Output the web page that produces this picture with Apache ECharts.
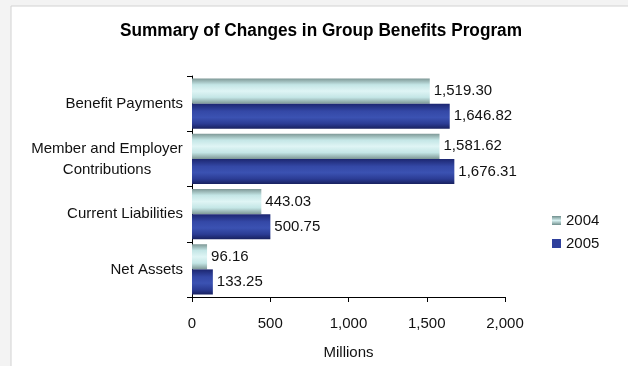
<!DOCTYPE html>
<html>
<head>
<meta charset="utf-8">
<script src="https://cdn.jsdelivr.net/npm/echarts@6/dist/echarts.min.js"></script>
<style>
  html, body { margin: 0; padding: 0; background: #f3f3f3; }
  #chart { width: 628px; height: 366px; }
</style>
</head>
<body>
<div id="chart"></div>
<script>
// Group benefits program summary, in millions
const categories = ['Benefit Payments', 'Member and Employer Contributions', 'Current Liabilities', 'Net Assets'];
const values2004 = [1519.30, 1581.62, 443.03, 96.16];
const values2005 = [1646.82, 1676.31, 500.75, 133.25];
const seriesNames = ['2004', '2005'];
const xTicks = [0, 500, 1000, 1500, 2000];
const titleText = 'Summary of Changes in Group Benefits Program';

const fmt = v => v.toLocaleString('en-US', { minimumFractionDigits: 2, maximumFractionDigits: 2 });
const fmtTick = v => v.toLocaleString('en-US');

const font = '"Liberation Sans", Arial, sans-serif';
const fs = 15;

// Condensed bold heading: measure the bold face and squeeze it horizontally
const titleFont = 'bold 18px "Liberation Sans", Arial, sans-serif';
const ctx = document.createElement('canvas').getContext('2d');
ctx.font = titleFont;
const titleScale = 402 / ctx.measureText(titleText).width;

// Cylinder-style shading across the bar thickness
const grad2004 = new echarts.graphic.LinearGradient(0, 0, 0, 1, [
  { offset: 0, color: '#7e9896' },
  { offset: 0.25, color: '#c4e6e6' },
  { offset: 0.5, color: '#dff5f5' },
  { offset: 0.75, color: '#c4e6e6' },
  { offset: 1, color: '#7e9896' }
]);
const grad2005 = new echarts.graphic.LinearGradient(0, 0, 0, 1, [
  { offset: 0, color: '#1c2670' },
  { offset: 0.3, color: '#3448a6' },
  { offset: 0.55, color: '#3b52b2' },
  { offset: 0.8, color: '#2b3c94' },
  { offset: 1, color: '#18215f' }
]);
const legend2004 = new echarts.graphic.LinearGradient(0, 0, 0, 1, [
  { offset: 0, color: '#6f8e8c' },
  { offset: 0.5, color: '#d6f0f0' },
  { offset: 1, color: '#6f8e8c' }
]);

const chart = echarts.init(document.getElementById('chart'), null, { renderer: 'canvas' });

chart.setOption({
  backgroundColor: 'transparent',
  animation: false,
  graphic: [
    {
      type: 'rect',
      left: 10.5, top: 5.5,
      shape: { x: 0, y: 0, width: 640, height: 380 },
      style: { fill: '#ffffff', stroke: '#d2d2d2', lineWidth: 1 },
      z: -10
    },
    {
      type: 'text',
      x: 321, y: 31,
      scaleX: titleScale,
      style: {
        text: titleText,
        font: titleFont,
        fill: '#000',
        textAlign: 'center',
        textVerticalAlign: 'middle'
      }
    }
  ],
  legend: {
    orient: 'vertical',
    left: 547,
    top: 208,
    itemWidth: 9,
    itemHeight: 9,
    itemGap: 8,
    icon: 'rect',
    data: [
      { name: '2004', itemStyle: { color: legend2004 } },
      { name: '2005', itemStyle: { color: '#2e3f9c' } }
    ],
    textStyle: { fontFamily: font, fontSize: fs, color: '#111' }
  },
  grid: { left: 192, right: 123, top: 76, bottom: 69, containLabel: false },
  xAxis: {
    type: 'value',
    min: xTicks[0],
    max: xTicks[xTicks.length - 1],
    interval: xTicks[1] - xTicks[0],
    name: 'Millions',
    nameLocation: 'middle',
    nameGap: 48,
    nameTextStyle: { fontFamily: font, fontSize: fs, color: '#111' },
    axisLine: { show: true, lineStyle: { color: '#000', width: 1 } },
    axisTick: { show: true, length: 5, lineStyle: { color: '#000' } },
    axisLabel: { formatter: fmtTick, fontFamily: font, fontSize: fs, color: '#111', margin: 19 },
    splitLine: { show: false }
  },
  yAxis: {
    type: 'category',
    inverse: true,
    data: categories,
    axisLine: { show: true, lineStyle: { color: '#000', width: 1 } },
    axisTick: { show: true, length: 5, lineStyle: { color: '#000' } },
    axisLabel: {
      fontFamily: font, fontSize: fs, color: '#111', margin: 9, lineHeight: 21,
      formatter: v => v === 'Member and Employer Contributions'
        ? '{c|Member and Employer}\n{c|Contributions}'
        : v,
      rich: { c: { width: 152, align: 'center', fontFamily: font, fontSize: fs, color: '#111', lineHeight: 21 } }
    }
  },
  series: [
    {
      name: seriesNames[0], type: 'bar', data: values2004,
      barGap: '0%', barCategoryGap: '9%',
      itemStyle: { color: grad2004 },
      label: { show: true, position: 'right', distance: 4, formatter: p => fmt(p.value),
        fontFamily: font, fontSize: fs, color: '#111' }
    },
    {
      name: seriesNames[1], type: 'bar', data: values2005,
      barGap: '0%', barCategoryGap: '9%',
      itemStyle: { color: grad2005 },
      label: { show: true, position: 'right', distance: 4, formatter: p => fmt(p.value),
        fontFamily: font, fontSize: fs, color: '#111' }
    }
  ]
});
</script>
</body>
</html>
